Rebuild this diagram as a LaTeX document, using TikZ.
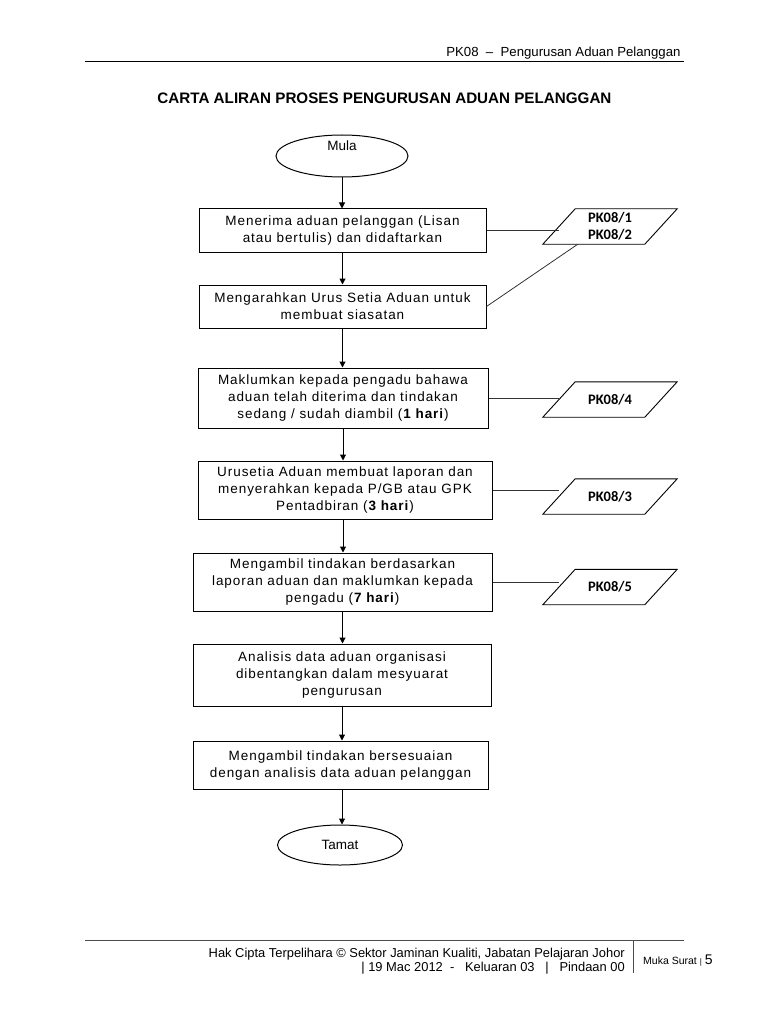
\documentclass[tikz,border=0pt]{standalone}
\usepackage{fontspec}
\setmainfont{Liberation Sans}
\newfontfamily\boxfont[LetterSpace=7]{Liberation Sans}
\newfontfamily\pkfont{Carlito}
\usetikzlibrary{shapes.geometric,arrows.meta,calc}
\begin{document}
\begin{tikzpicture}[x=1pt,y=-1pt,
  box/.style={draw, line width=1pt, align=center, inner sep=0pt,
    font=\boxfont\fontsize{13.5}{17}\selectfont},
  term/.style={draw, ellipse, line width=1pt, inner sep=0pt},
  pk/.style={minimum width=134pt, minimum height=35pt, inner sep=0pt, align=center,
    font=\pkfont\bfseries\fontsize{14.5}{17}\selectfont},
  paraline/.style={line width=0.9pt},
  flow/.style={-{Triangle[length=6pt,width=6pt]}, line width=1pt},
  link/.style={line width=0.8pt, black!80}]
\useasboundingbox (0,0) rectangle (768,1024);
\fill[white] (0,0) rectangle (768,1024);

% header
\node[anchor=base east, font=\fontsize{13.2}{14}\selectfont] (hdr) at (684,57) {PK08\ \ –\ \ Pengurusan Aduan Pelanggan};
\draw[line width=1pt] (85,62) -- (684,62);
\node[font=\bfseries\fontsize{15.2}{16}\selectfont] (title) at (384.5,98) {CARTA ALIRAN PROSES PENGURUSAN ADUAN PELANGGAN};

% terminals
\node[term, minimum width=132pt, minimum height=42pt, label={[yshift=10pt, font=\fontsize{13.5}{15}\selectfont]center:Mula}] (mula) at (342,156) {};
\node[term, minimum width=125pt, minimum height=40pt, font=\fontsize{13.5}{15}\selectfont] (tamat) at (340,845) {Tamat};

% process boxes
\node[box, minimum width=287pt, minimum height=43pt] (b1) at (342.5,230.5) {Menerima aduan pelanggan (Lisan\\atau bertulis) dan didaftarkan};
\node[box, minimum width=287pt, minimum height=43pt] (b2) at (342.5,306.5) {Mengarahkan Urus Setia Aduan untuk\\membuat siasatan};
\node[box, minimum width=290pt, minimum height=60pt] (b3) at (343,398) {Maklumkan kepada pengadu bahawa\\aduan telah diterima dan tindakan\\sedang / sudah diambil (\textbf{1 hari})};
\node[box, minimum width=294pt, minimum height=58pt] (b4) at (345,490) {Urusetia Aduan membuat laporan dan\\menyerahkan kepada P/GB atau GPK\\Pentadbiran (\textbf{3 hari})};
\node[box, minimum width=299pt, minimum height=58pt] (b5) at (342.5,582) {Mengambil tindakan berdasarkan\\laporan aduan dan maklumkan kepada\\pengadu (\textbf{7 hari})};
\node[box, minimum width=298pt, minimum height=62pt] (b6) at (342,675) {Analisis data aduan organisasi\\dibentangkan dalam mesyuarat\\pengurusan};
\node[box, minimum width=295pt, minimum height=48pt] (b7) at (340.5,765) {Mengambil tindakan bersesuaian\\dengan analisis data aduan pelanggan};

% document parallelograms
\node[pk] (p1) at (610,226.5) {PK08/1\\PK08/2};
\node[pk] (p4) at (610,399.5) {PK08/4};
\node[pk] (p3) at (610,496.5) {PK08/3};
\node[pk] (p5) at (610,587) {PK08/5};
\foreach \p in {p1,p4,p3,p5}{
  \draw[paraline] (\p.south west) -- ($(\p.south west)+(102,0)$) -- (\p.north east)
    -- ($(\p.north east)+(-102,0)$) -- cycle;
  \coordinate (\p w) at ($(\p.west)+(16,0)$);
}
\coordinate (p1b) at ($(p1.south west)+(35,0)$);

% flow arrows
\draw[flow] (mula.south) -- (mula.south |- b1.north);
\draw[flow] (b1.south) -- (b1.south |- b2.north);
\draw[flow] (b2.south) -- (b2.south |- b3.north);
\draw[flow] (b3.south) -- (b3.south |- b4.north);
\draw[flow] (b3.south |- b4.south) -- (b3.south |- b5.north);
\draw[flow] (b5.south) -- (b5.south |- b6.north);
\draw[flow] (b6.south) -- (b6.south |- b7.north);
\draw[flow] (b6.south |- b7.south) -- (b6.south |- tamat.north);

% links to documents
\draw[link] (b1.east) -- (b1.east -| p1w);
\draw[link] (b2.east) -- (p1b);
\draw[link] (b3.east) -- (b3.east -| p4w);
\draw[link] (b4.east) -- (b4.east -| p3w);
\draw[link] (b5.east) -- (b5.east -| p5w);

% footer
\draw[line width=0.7pt, black!70] (85,940) -- (684,940);
\draw[line width=0.7pt, black!70] (633,940) -- (633,973);
\node[anchor=base east, inner sep=0pt, font=\fontsize{12.9}{14}\selectfont] (f1) at (625,957) {Hak Cipta Terpelihara © Sektor Jaminan Kualiti, Jabatan Pelajaran Johor};
\node[anchor=base east, inner sep=0pt, font=\fontsize{12.9}{14}\selectfont] (f2) at (625,971) {| 19 Mac 2012\ \ -\ \ \ Keluaran 03\ \ \ |\ \ \ Pindaan 00};
\node[anchor=base west, inner sep=0pt, font=\fontsize{10.5}{12}\selectfont] (muka) at (643,964) {Muka Surat {\fontsize{8}{10}\selectfont|} {\fontsize{14}{14}\selectfont 5}};
\end{tikzpicture}
\end{document}
